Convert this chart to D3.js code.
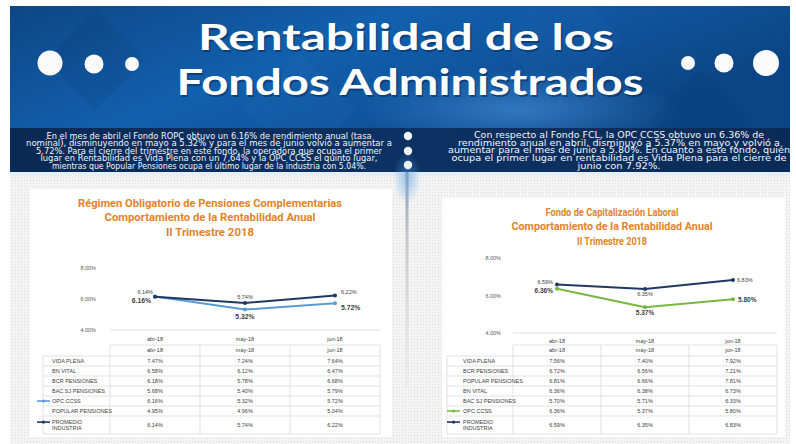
<!DOCTYPE html>
<html><head><meta charset="utf-8">
<script src="https://cdn.jsdelivr.net/npm/d3@7"></script>
<style>html,body{margin:0;padding:0;background:#fff;overflow:hidden}svg{display:block}</style>
</head><body>
<svg id="c" width="796" height="444"></svg>
<script>
// ---------------- DATA ----------------
const months = ["abr-18", "may-18", "jun-18"];
const yTicks = [4, 6, 8];
const ropcFunds = ["VIDA PLENA", "BN VITAL", "BCR PENSIONES", "BAC SJ PENSIONES", "OPC CCSS", "POPULAR PENSIONES", "PROMEDIO INDUSTRIA"];
const ropcValues = [
  [7.47, 7.24, 7.64],
  [6.58, 6.12, 6.47],
  [6.18, 5.78, 6.68],
  [5.68, 5.40, 5.79],
  [6.16, 5.32, 5.72],
  [4.95, 4.96, 5.04],
  [6.14, 5.74, 6.22]
];
const fclFunds = ["VIDA PLENA", "BCR PENSIONES", "POPULAR PENSIONES", "BN VITAL", "BAC SJ PENSIONES", "OPC CCSS", "PROMEDIO INDUSTRIA"];
const fclValues = [
  [7.56, 7.40, 7.92],
  [6.72, 6.56, 7.21],
  [6.81, 6.66, 7.81],
  [6.36, 6.38, 6.73],
  [5.70, 5.71, 6.33],
  [6.36, 5.37, 5.80],
  [6.59, 6.35, 6.83]
];
const headline = ["Rentabilidad de los", "Fondos Administrados"];
const ropcText = [
  "En el mes de abril el Fondo ROPC obtuvo un 6.16% de rendimiento anual (tasa",
  "nominal), disminuyendo en mayo a 5.32% y para el mes de junio volvió a aumentar a",
  "5.72%. Para el cierre del trimestre en este fondo, la operadora que ocupa el primer",
  "lugar en Rentabilidad es Vida Plena con un 7,64% y la OPC CCSS el quinto lugar,",
  "mientras que Popular Pensiones ocupa el último lugar de la industria con 5.04%."
];
const fclText = [
  "Con respecto al Fondo FCL, la OPC CCSS obtuvo un 6.36% de",
  "rendimiento anual en abril, disminuyó a 5.37% en mayo y volvió a",
  "aumentar para el mes de junio a 5.80%. En cuanto a este fondo, quién",
  "ocupa el primer lugar en rentabilidad es Vida Plena para el cierre de",
  "junio con 7.92%."
];
const ropcTitle = ["Régimen Obligatorio de Pensiones Complementarias", "Comportamiento de la Rentabilidad Anual", "II Trimestre 2018"];
const fclTitle = ["Fondo de Capitalización Laboral", "Comportamiento de la Rentabilidad Anual", "II Trimestre 2018"];

// ---------------- DRAW ----------------
const svg = d3.select("#c");
const defs = svg.append("defs");

const bg = defs.append("linearGradient").attr("id", "bannerG").attr("x1", 0).attr("x2", 1).attr("y1", 0).attr("y2", 0.4);
bg.append("stop").attr("offset", "0").attr("stop-color", "#0d4685");
bg.append("stop").attr("offset", "0.45").attr("stop-color", "#1260ad");
bg.append("stop").attr("offset", "0.7").attr("stop-color", "#0f559d");
bg.append("stop").attr("offset", "1").attr("stop-color", "#0c4585");

const band = defs.append("linearGradient").attr("id", "bandG").attr("x1", 0).attr("x2", 1);
band.append("stop").attr("offset", "0").attr("stop-color", "#0a2a55");
band.append("stop").attr("offset", "0.5").attr("stop-color", "#0c3263");
band.append("stop").attr("offset", "1").attr("stop-color", "#0a2b57");

const glow = defs.append("radialGradient").attr("id", "glowG");
glow.append("stop").attr("offset", "0").attr("stop-color", "#4f9be6").attr("stop-opacity", 0.55);
glow.append("stop").attr("offset", "1").attr("stop-color", "#4f9be6").attr("stop-opacity", 0);

const vline = defs.append("linearGradient").attr("id", "vlineG").attr("x1", 0).attr("x2", 0).attr("y1", 0).attr("y2", 1);
vline.append("stop").attr("offset", "0").attr("stop-color", "#7f9fc4");
vline.append("stop").attr("offset", "0.3").attr("stop-color", "#c4c8cc");
vline.append("stop").attr("offset", "1").attr("stop-color", "#d8d8d8").attr("stop-opacity", 0.2);

const pat = defs.append("pattern").attr("id", "dots").attr("width", 3).attr("height", 3).attr("patternUnits", "userSpaceOnUse");
pat.append("rect").attr("width", 3).attr("height", 3).attr("fill", "#f4f4f4");
pat.append("rect").attr("width", 1).attr("height", 1).attr("fill", "#dcdcdc");

// Banner
svg.append("rect").attr("x", 10).attr("y", 6).attr("width", 780).attr("height", 123).attr("fill", "url(#bannerG)");
// diamond texture
[[95, 60, 70, 0.10, "#062a5a"], [300, 110, 80, 0.07, "#4c8fd6"], [560, 40, 90, 0.06, "#4c8fd6"], [700, 120, 70, 0.08, "#062a5a"]]
  .forEach(([cx, cy, s, o, c]) => {
    svg.append("rect").attr("x", cx - s / 2).attr("y", cy - s / 2).attr("width", s).attr("height", s)
      .attr("transform", `rotate(45 ${cx} ${cy})`).attr("fill", c).attr("opacity", o);
  });
svg.append("ellipse").attr("cx", 520).attr("cy", 110).attr("rx", 160).attr("ry", 40).attr("fill", "url(#glowG)");
// cover diamond overflow outside banner
svg.append("rect").attr("x", 0).attr("y", 0).attr("width", 796).attr("height", 6).attr("fill", "#fff");
svg.append("rect").attr("x", 0).attr("y", 0).attr("width", 10).attr("height", 444).attr("fill", "#fff");
svg.append("rect").attr("x", 790).attr("y", 0).attr("width", 6).attr("height", 444).attr("fill", "#fff");

// Headline
const hl = svg.append("g").attr("font-family", "Lato, 'Open Sans', sans-serif").attr("font-weight", 700)
  .attr("fill", "#fff").attr("font-size", 36);
const hlGeo = [{ x: 406, y: 50, w: 416 }, { x: 410, y: 95, w: 467 }];
headline.forEach((t, i) => {
  hl.append("text").attr("x", hlGeo[i].x + 1.5).attr("y", hlGeo[i].y + 1.5).attr("text-anchor", "middle")
    .attr("textLength", hlGeo[i].w).attr("lengthAdjust", "spacingAndGlyphs").attr("fill", "#072650").attr("opacity", 0.5).text(t);
  hl.append("text").attr("x", hlGeo[i].x).attr("y", hlGeo[i].y).attr("text-anchor", "middle")
    .attr("textLength", hlGeo[i].w).attr("lengthAdjust", "spacingAndGlyphs").text(t);
});
// dots
[[50, 63, 12.5], [94, 64, 9.5], [132, 64, 7], [688, 63, 7], [724, 63, 9.5], [766, 63, 13]].forEach(([x, y, r]) => {
  svg.append("circle").attr("cx", x).attr("cy", y).attr("r", r).attr("fill", "#fbfbfb");
});

// Text band
svg.append("rect").attr("x", 10).attr("y", 128).attr("width", 780).attr("height", 44).attr("fill", "url(#bandG)");
const tb = svg.append("g").attr("font-family", "'DejaVu Sans', sans-serif").attr("fill", "#f2f5fa").attr("font-size", 8);
const ropcW = [325, 366, 346, 337, 314];
ropcText.forEach((t, i) => {
  tb.append("text").attr("x", 209).attr("y", 138.5 + i * 7.6).attr("text-anchor", "middle")
    .attr("textLength", ropcW[i]).attr("lengthAdjust", "spacingAndGlyphs").text(t);
});
const fclW = [290, 322, 342, 335, 83];
fclText.forEach((t, i) => {
  tb.append("text").attr("x", 619).attr("y", 138 + i * 7.7).attr("text-anchor", "middle")
    .attr("textLength", fclW[i]).attr("lengthAdjust", "spacingAndGlyphs").text(t);
});

// lower background
svg.append("rect").attr("x", 10).attr("y", 172).attr("width", 780).attr("height", 272).attr("fill", "url(#dots)");
svg.append("rect").attr("x", 10).attr("y", 172).attr("width", 780).attr("height", 4).attr("fill", "#e6eef7");

// divider
svg.append("ellipse").attr("cx", 407).attr("cy", 178).attr("rx", 14).attr("ry", 26).attr("fill", "url(#glowG)");
svg.append("rect").attr("x", 405.5).attr("y", 172).attr("width", 3).attr("height", 215).attr("fill", "url(#vlineG)");
[136, 151, 165].forEach(y => svg.append("circle").attr("cx", 408).attr("cy", y).attr("r", 4.2).attr("fill", "#eef3fa"));

// ---------------- PANELS ----------------
function panel(cfg) {
  const g = svg.append("g");
  g.append("rect").attr("x", cfg.box[0]).attr("y", cfg.box[1]).attr("width", cfg.box[2]).attr("height", cfg.box[3]).attr("fill", "#fff");

  // title
  const tg = g.append("g").attr("font-family", "'Liberation Sans Narrow', 'Roboto', sans-serif").attr("font-weight", 700)
    .attr("fill", "#e3832b").attr("font-size", 11);
  cfg.title.forEach((t, i) => {
    tg.append("text").attr("x", cfg.titleX).attr("y", cfg.titleY[i]).attr("dy", "0.35em").attr("text-anchor", "middle")
      .attr("textLength", cfg.titleW[i]).attr("lengthAdjust", "spacingAndGlyphs").text(t);
  });

  const x = d3.scaleBand().domain(months).range(cfg.xRange);
  const y = d3.scaleLinear().domain([4, 8]).range(cfg.yRange);
  const cx = m => x(m) + x.bandwidth() / 2;
  const fmt = v => v.toFixed(2) + "%";
  const small = "'Liberation Sans Narrow', 'Liberation Sans', sans-serif";

  // y axis labels (no axis line)
  const yAx = g.append("g").attr("transform", `translate(${cfg.xRange[0]},0)`)
    .call(d3.axisLeft(y).tickValues(yTicks).tickSize(0).tickPadding(cfg.yPad).tickFormat(d => d.toFixed(2) + "%"));
  yAx.select(".domain").remove();
  yAx.selectAll("text").attr("font-family", small).attr("font-size", 5.5).attr("fill", "#595959");
  // baseline at 4%
  g.append("line").attr("x1", cfg.xRange[0]).attr("x2", cfg.xRange[1]).attr("y1", y(4)).attr("y2", y(4))
    .attr("stroke", "#d9d9d9").attr("stroke-width", 0.8);
  // category labels
  const xAx = g.append("g").attr("transform", `translate(0,${cfg.catY})`).call(d3.axisBottom(x).tickSize(0).tickPadding(0));
  xAx.select(".domain").remove();
  xAx.selectAll("text").attr("font-family", small).attr("font-size", 5.5).attr("fill", "#404040").attr("dy", "0.35em");

  // lines
  const line = d3.line().x((d, i) => cx(months[i])).y(d => y(d));
  cfg.series.forEach(s => {
    const vals = cfg.values[s.idx];
    g.append("path").attr("d", line(vals)).attr("fill", "none").attr("stroke", s.color).attr("stroke-width", 2);
    vals.forEach((v, i) => {
      g.append("circle").attr("cx", cx(months[i])).attr("cy", y(v)).attr("r", 2).attr("fill", s.color);
      const lp = s.labels[i];
      g.append("text").attr("x", cx(months[i]) + lp[0]).attr("y", y(v) + lp[1]).attr("dy", "0.35em")
        .attr("text-anchor", lp[2]).attr("font-family", small).attr("font-size", s.fs)
        .attr("font-weight", s.fw).attr("fill", "#404040").text(fmt(v));
    });
  });

  // table
  const T = cfg.table;
  const rowTops = cfg.funds.map((f, i) => T.rowTop + i * T.rowH);
  const bottom = T.rowTop + (cfg.funds.length - 1) * T.rowH + T.lastH;
  const tbl = g.append("g").attr("font-family", small).attr("font-size", 5.5).attr("fill", "#404040");
  const ls = "#d6d6d6";
  // header row
  tbl.append("line").attr("x1", cfg.xRange[0]).attr("x2", cfg.xRange[1]).attr("y1", T.headTop).attr("y2", T.headTop).attr("stroke", ls).attr("stroke-width", 0.7);
  months.forEach(m => tbl.append("text").attr("x", cx(m)).attr("y", (T.headTop + T.rowTop) / 2).attr("dy", "0.35em")
    .attr("text-anchor", "middle").text(m));
  // horizontal lines
  rowTops.concat([bottom]).forEach(yy => tbl.append("line").attr("x1", T.left).attr("x2", cfg.xRange[1])
    .attr("y1", yy).attr("y2", yy).attr("stroke", ls).attr("stroke-width", 0.7));
  // vertical lines
  tbl.append("line").attr("x1", T.left).attr("x2", T.left).attr("y1", T.rowTop).attr("y2", bottom).attr("stroke", ls).attr("stroke-width", 0.7);
  months.forEach(m => tbl.append("line").attr("x1", x(m)).attr("x2", x(m)).attr("y1", T.headTop).attr("y2", bottom).attr("stroke", ls).attr("stroke-width", 0.7));
  tbl.append("line").attr("x1", cfg.xRange[1]).attr("x2", cfg.xRange[1]).attr("y1", T.headTop).attr("y2", bottom).attr("stroke", ls).attr("stroke-width", 0.7);

  cfg.funds.forEach((f, i) => {
    const top = rowTops[i];
    const h = i === cfg.funds.length - 1 ? T.lastH : T.rowH;
    const mid = top + h / 2;
    const words = f === "PROMEDIO INDUSTRIA" ? ["PROMEDIO", "INDUSTRIA"] : [f];
    words.forEach((w, k) => tbl.append("text").attr("x", T.labelX)
      .attr("y", mid + (k - (words.length - 1) / 2) * 5.8).attr("dy", "0.35em").text(w));
    const s = cfg.series.find(s => s.idx === i);
    if (s) {
      const ly = mid - (words.length - 1) * 2.9;
      tbl.append("line").attr("x1", T.legend[0]).attr("x2", T.legend[1]).attr("y1", ly).attr("y2", ly).attr("stroke", s.color).attr("stroke-width", 1.6);
      tbl.append("circle").attr("cx", (T.legend[0] + T.legend[1]) / 2).attr("cy", ly).attr("r", 1.6).attr("fill", s.color);
    }
    cfg.values[i].forEach((v, j) => tbl.append("text").attr("x", cx(months[j])).attr("y", mid).attr("dy", "0.35em")
      .attr("text-anchor", "middle").text(fmt(v)));
  });
}

panel({
  box: [30, 189, 362, 248],
  title: ropcTitle, titleX: 210, titleY: [203, 217, 232], titleW: [264, 211, 88],
  xRange: [110, 380], yRange: [330, 268], yPad: 14, catY: 339,
  funds: ropcFunds, values: ropcValues,
  series: [
    { idx: 4, color: "#5b9bd5", fs: 6.8, fw: 700, labels: [[-4, 4, "end"], [0, 7, "middle"], [6, 4, "start"]] },
    { idx: 6, color: "#1f3864", fs: 5.5, fw: 400, labels: [[-2, -5, "end"], [0, -6, "middle"], [6, -4, "start"]] }
  ],
  table: { headTop: 345, rowTop: 356, rowH: 10, lastH: 18, left: 43, labelX: 52, legend: [37, 50] }
});

panel({
  box: [442, 198, 343, 239],
  title: fclTitle, titleX: 612, titleY: [212, 226, 241], titleW: [133, 201, 70],
  xRange: [513, 777], yRange: [333, 258], yPad: 12, catY: 341,
  funds: fclFunds, values: fclValues,
  series: [
    { idx: 5, color: "#77b843", fs: 6.5, fw: 700, labels: [[-4, 2, "end"], [0, 5, "middle"], [5, 0, "start"]] },
    { idx: 6, color: "#1f3864", fs: 5.5, fw: 400, labels: [[-4, -2, "end"], [0, 5, "middle"], [4, 0, "start"]] }
  ],
  table: { headTop: 345, rowTop: 356, rowH: 10, lastH: 18, left: 447, labelX: 463, legend: [447, 460] }
});
</script>
</body></html>
